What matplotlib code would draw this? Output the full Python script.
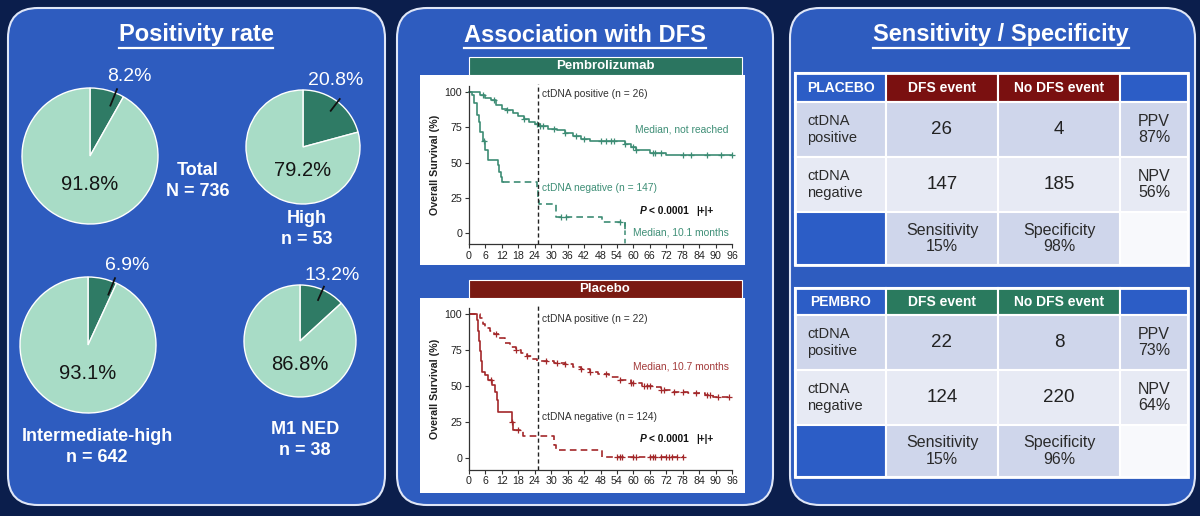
import numpy as np
import matplotlib.pyplot as plt
from matplotlib.patches import FancyBboxPatch, Rectangle

plt.rcParams['font.family'] = ['Liberation Sans', 'DejaVu Sans']

# -----------------------------------------------------------
# Data
# -----------------------------------------------------------
pie_names = ['Total\nN = 736', 'High\nn = 53', 'Intermediate-high\nn = 642', 'M1 NED\nn = 38']
pie_pos = [8.2, 20.8, 6.9, 13.2]
pie_neg = [91.8, 79.2, 93.1, 86.8]

# Kaplan-Meier curves (time in months, survival in %)
pem_hi_t = [0, 2, 4, 6, 8, 10, 12, 14, 16, 18, 20, 22, 24, 26, 29, 32, 35, 38, 41, 44, 57, 59, 61, 66, 72]
pem_hi_s = [100, 100, 98, 96, 94, 91, 88, 87, 85, 83, 81, 79, 77, 76, 74, 73, 71, 69, 67, 65, 63, 61, 59, 57, 55]
pem_hi_cens = [5, 9, 14, 20, 25, 26, 27, 31, 35, 39, 42, 48, 50, 52, 53, 57, 60, 61, 67, 68, 70, 78, 81, 87, 92, 96]
pem_lo_t = [0, 1, 2, 3, 3.5, 4, 5, 6, 7, 10.5, 11, 11.5, 12, 24.7, 25.2, 25.6, 31.8, 48.7, 56.8]
pem_lo_s = [100, 98, 92, 84, 79, 72, 65, 59, 51.5, 48, 43, 40, 36, 31, 25, 20.5, 11.5, 8, 0]
pem_lo_cens = [5.5, 33.5, 35.5, 55]

pla_hi_t = [0, 4, 5, 6, 7.5, 9, 11, 13, 15, 17, 19, 21, 23, 25, 31, 35, 38, 41, 44, 47, 51, 55, 59, 63, 67, 70, 74, 80, 86, 89]
pla_hi_s = [100, 97, 93, 90, 88, 86, 83, 80, 77, 75, 73, 71, 69, 67, 66, 65, 63, 62, 60, 58, 56, 54, 52, 50, 49, 47, 46, 45, 44, 42]
pla_hi_cens = [10, 17, 21, 28, 32, 35, 41, 44, 50, 55, 59, 60, 64, 65, 66, 70, 71, 75, 78, 83, 87, 88, 91, 95]
pla_lo_t = [0, 2.8, 3.3, 3.6, 4, 4.4, 4.9, 5.8, 7, 8.3, 9.5, 10.1, 10.7, 15.6, 16.1, 19.8, 31, 31.6, 48.6]
pla_lo_s = [100, 96, 88, 81, 74, 67, 60, 57.5, 54, 50.5, 46, 40, 32, 25, 19.5, 15, 9, 5.5, 0.5]
pla_lo_cens = [8, 15.6, 18, 54, 55, 56, 60, 61, 66, 67, 68, 70, 72, 73, 74, 76, 78]

row_labels = ['ctDNA\npositive', 'ctDNA\nnegative']
col_labels = ['DFS event', 'No DFS event']
placebo_counts = [[26, 4], [147, 185]]
placebo_pv = ['PPV\n87%', 'NPV\n56%']
placebo_sens = ['Sensitivity\n15%', 'Specificity\n98%']
pembro_counts = [[22, 8], [124, 220]]
pembro_pv = ['PPV\n73%', 'NPV\n64%']
pembro_sens = ['Sensitivity\n15%', 'Specificity\n96%']

# -----------------------------------------------------------
# Figure / background in pixel coordinates
# -----------------------------------------------------------
W, H = 1200, 516
fig = plt.figure(figsize=(12, 5.16), dpi=100)
fig.patch.set_facecolor('#0b1e4c')

bg = fig.add_axes([0, 0, 1, 1])
bg.set_xlim(0, W)
bg.set_ylim(H, 0)
bg.axis('off')


def px_axes(x0, y0, x1, y1):
    return fig.add_axes([x0 / W, 1 - y1 / H, (x1 - x0) / W, (y1 - y0) / H])


PANEL = '#2e5cbf'
for x0, x1 in [(8, 385), (397, 773), (790, 1195)]:
    bg.add_patch(FancyBboxPatch((x0, 8), x1 - x0, 497, boxstyle='round,pad=0,rounding_size=30',
                                facecolor=PANEL, edgecolor='#dfe6f7', lw=1.5))

renderer = fig.canvas.get_renderer()
for cx, title in [(196, 'Positivity rate'), (585, 'Association with DFS'), (1001, 'Sensitivity / Specificity')]:
    t = bg.text(cx, 35, title, color='white', fontsize=17, fontweight='bold', ha='center', va='center')
    bb = t.get_window_extent(renderer).transformed(bg.transData.inverted())
    bg.plot([bb.x0, bb.x1], [47.5, 47.5], color='white', lw=1.6)

# -----------------------------------------------------------
# Pies
# -----------------------------------------------------------
DARK, LIGHT = '#2f7b65', '#a8dcc6'
pie_geom = [(90, 156, 68), (303, 147, 57), (88, 345, 68), (300, 341, 56)]
name_pos = [(198, 181), (307, 229), (97, 447), (305, 440)]

for (cx, cy, r), p, n, name, (nx, ny) in zip(pie_geom, pie_pos, pie_neg, pie_names, name_pos):
    ax = px_axes(cx - 1.05 * r, cy - 1.05 * r, cx + 1.05 * r, cy + 1.05 * r)
    ax.pie([p, n], colors=[DARK, LIGHT], startangle=90, counterclock=False, radius=1,
           wedgeprops=dict(edgecolor='white', linewidth=1))
    ax.set_xlim(-1.05, 1.05)
    ax.set_ylim(-1.05, 1.05)
    ax.axis('off')
    a = np.radians(max(p * 1.8, 22))
    ax.plot([0.8 * np.sin(a), 1.06 * np.sin(a)], [0.8 * np.cos(a), 1.06 * np.cos(a)],
            color='#111111', lw=1.3, clip_on=False)
    ax.text(0.58, 1.17, f'{p}%', color='white', fontsize=14, ha='center', va='center')
    ax.text(0, -0.42, f'{n}%', color='#151515', fontsize=14.5, ha='center', va='center')
    bg.text(nx, ny, name, color='white', fontsize=13, fontweight='bold', ha='center', va='center',
            linespacing=1.25)

# -----------------------------------------------------------
# Kaplan-Meier panels
# -----------------------------------------------------------


def surv_at(t, s, x):
    i = np.searchsorted(np.array(t), x, side='right') - 1
    return np.array(s)[i]


def draw_curve(ax, t, s, t_end, switch, cens, color):
    xs = np.array(t + [t_end], float)
    ys = np.array(s + [s[-1]], float)
    if switch is None:
        ax.step(xs, ys, where='post', color=color, lw=1.2, clip_on=False)
    else:
        m = xs < switch
        ax.step(np.r_[xs[m], switch], np.r_[ys[m], surv_at(t, s, switch)], where='post',
                color=color, lw=1.2)
        m2 = xs > switch
        ax.step(np.r_[switch, xs[m2]], np.r_[surv_at(t, s, switch), ys[m2]], where='post',
                color=color, lw=1.2, dashes=(4, 2.5), clip_on=False)
    cy = [surv_at(t, s, c) for c in cens]
    ax.plot(cens, cy, '+', color=color, ms=4, mew=0.9, clip_on=False)


def km_panel(box, header, hcolor, hi, lo, ccol, tcol, labels):
    x0, y0, x1, y1, top, bot = box
    bg.add_patch(Rectangle((420, top), 325, bot - top, facecolor='white', edgecolor='none'))
    bg.add_patch(Rectangle((469, top - 18), 273, 18, facecolor=hcolor, edgecolor='white', lw=0.8))
    bg.text(605, top - 9, header, color='white', fontsize=9.5, fontweight='bold', ha='center', va='center')
    ax = px_axes(x0, y0, x1, y1)
    ax.set_facecolor('none')
    ax.set_xlim(0, 96)
    ax.set_ylim(-8, 104)
    for sp in ['top', 'right']:
        ax.spines[sp].set_visible(False)
    for sp in ['left', 'bottom']:
        ax.spines[sp].set_color('#333333')
        ax.spines[sp].set_linewidth(0.9)
    ax.spines['left'].set_bounds(-8, 104)
    ax.set_xticks(np.arange(0, 97, 6))
    ax.set_yticks([0, 25, 50, 75, 100])
    ax.tick_params(labelsize=7.7, length=3, width=0.8, color='#333333', labelcolor='#222222', pad=2)
    ax.set_ylabel('Overall Survival (%)', fontsize=7.7, fontweight='bold', color='#222222', labelpad=3)
    draw_curve(ax, *hi, color=ccol)
    draw_curve(ax, *lo, color=ccol)
    ax.plot([25.3, 25.3], [-8, 106], color='#222222', lw=1, dashes=(3, 2), clip_on=False)
    (pos_txt, pos_y), (med_hi, med_hi_y), (neg_txt, neg_y, neg_col), (p_y, med_lo, med_lo_y) = labels
    ax.text(26.8, pos_y, pos_txt, color='#333333', fontsize=7.4, va='center')
    ax.text(94.8, med_hi_y, med_hi, color=tcol, fontsize=7.4, ha='right', va='center')
    ax.text(26.8, neg_y, neg_txt, color=neg_col, fontsize=7.4, va='center')
    ax.text(62.4, p_y, 'P', color='#111111', fontsize=7.4, fontweight='bold', style='italic', va='center')
    ax.text(65.6, p_y, '< 0.0001', color='#111111', fontsize=7.4, fontweight='bold', va='center')
    ax.text(83, p_y, '|+|+', color='#111111', fontsize=7.4, fontweight='bold', va='center')
    if med_lo:
        ax.text(94.8, med_lo_y, med_lo, color=tcol, fontsize=7.4, ha='right', va='center')
    return ax


GREEN_C, GREEN_T = '#3d8c74', '#3f8f77'
RED_C, RED_T = '#a3282a', '#a33a3a'

ax_pem = km_panel((469, 86.4, 732, 244.3, 75, 265), 'Pembrolizumab', '#2b7560',
                  (pem_hi_t, pem_hi_s, 96, None, pem_hi_cens),
                  (pem_lo_t, pem_lo_s, 56.8, 12.5, pem_lo_cens),
                  GREEN_C, GREEN_T,
                  (('ctDNA positive (n = 26)', 98.8), ('Median, not reached', 73.3),
                   ('ctDNA negative (n = 147)', 31.9, GREEN_T), (15.6, 'Median, 10.1 months', 0.7)))
# drop of the last step in the pembrolizumab lower curve
ax_pem.plot([56.8, 56.8], [8, -8], color=GREEN_C, lw=1.1, dashes=(3, 2.5), clip_on=False)

km_panel((469, 308.2, 732, 469.5, 298, 493), 'Placebo', '#7a1a12',
         (pla_hi_t, pla_hi_s, 96, 0, pla_hi_cens),
         (pla_lo_t, pla_lo_s, 78, 16.5, pla_lo_cens),
         RED_C, RED_T,
         (('ctDNA positive (n = 22)', 96.5), ('Median, 10.7 months', 63.6),
          ('ctDNA negative (n = 124)', 28.5, '#333333'), (13.4, None, 0)))

# -----------------------------------------------------------
# Tables
# -----------------------------------------------------------
BLUE_CELL = '#2c5dc6'
ROW1, ROW2, ROW3 = '#cfd6eb', '#e7eaf4', '#f8f9fc'
col_x = [795, 886, 998, 1120, 1188]


def draw_table(rows_y, name, hcolor, counts, pv, sens):
    fills = [[BLUE_CELL, hcolor, hcolor, BLUE_CELL],
             [ROW1, ROW1, ROW1, ROW1],
             [ROW2, ROW2, ROW2, ROW2],
             [BLUE_CELL, ROW1, ROW1, ROW3]]
    for i in range(4):
        for j in range(4):
            bg.add_patch(Rectangle((col_x[j], rows_y[i]), col_x[j + 1] - col_x[j], rows_y[i + 1] - rows_y[i],
                                   facecolor=fills[i][j], edgecolor='white', lw=1.5))
    bg.add_patch(Rectangle((col_x[0], rows_y[0]), col_x[-1] - col_x[0], rows_y[-1] - rows_y[0],
                           facecolor='none', edgecolor='white', lw=2))
    cxs = [(col_x[j] + col_x[j + 1]) / 2 for j in range(4)]
    cys = [(rows_y[i] + rows_y[i + 1]) / 2 for i in range(4)]
    bg.text(cxs[0], cys[0], name, color='white', fontsize=10, fontweight='bold', ha='center', va='center')
    for j, lab in enumerate(col_labels):
        bg.text(cxs[j + 1], cys[0], lab, color='white', fontsize=10, fontweight='bold', ha='center', va='center')
    for i in range(2):
        bg.text(col_x[0] + 12, cys[i + 1], row_labels[i], color='#2a2a2a', fontsize=10.5, ha='left',
                va='center', linespacing=1.2)
        for j in range(2):
            bg.text(cxs[j + 1], cys[i + 1], str(counts[i][j]), color='#222222', fontsize=13.5,
                    ha='center', va='center')
        bg.text(cxs[3], cys[i + 1], pv[i], color='#2a2a2a', fontsize=11.5, ha='center', va='center',
                linespacing=1.15)
    for j in range(2):
        bg.text(cxs[j + 1], cys[3], sens[j], color='#2a2a2a', fontsize=11.5, ha='center', va='center',
                linespacing=1.15)


draw_table([73, 102, 157, 212, 265], 'PLACEBO', '#7a1010', placebo_counts, placebo_pv, placebo_sens)
draw_table([288, 315, 370, 425, 477], 'PEMBRO', '#2a7a5e', pembro_counts, pembro_pv, pembro_sens)

fig.savefig('out.png', dpi=100, facecolor=fig.get_facecolor())
